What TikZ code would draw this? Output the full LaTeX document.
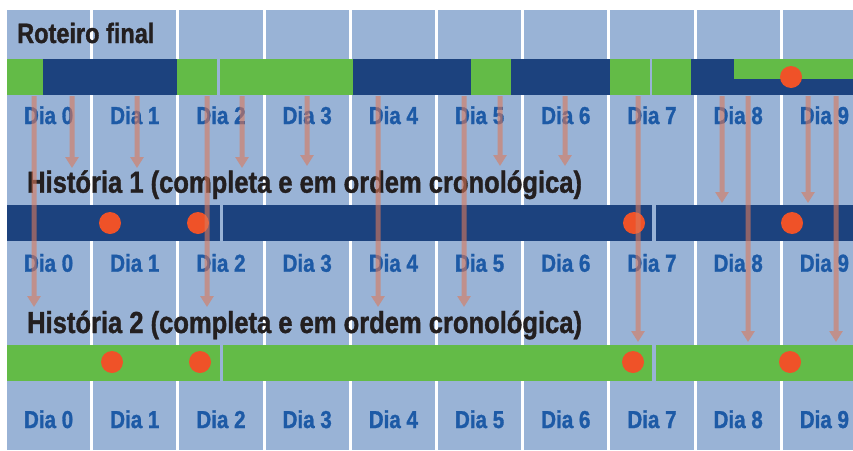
\documentclass[tikz,border=0pt]{standalone}
\usepackage{fontspec}
\setmainfont[FakeStretch=0.84, BoldFeatures={FakeBold=1.2}]{Liberation Sans}
\usetikzlibrary{arrows.meta}
\definecolor{colblue}{HTML}{99B3D6}
\definecolor{barnavy}{HTML}{1C427E}
\definecolor{bargreen}{HTML}{63BB47}
\definecolor{dotred}{HTML}{EF5228}
\definecolor{daytext}{HTML}{1D5AA6}
\definecolor{titletext}{HTML}{231F20}
\definecolor{arrowrose}{HTML}{DA795B}

\begin{document}
\begin{tikzpicture}[
    x=1pt, y=-1pt,
    column/.style={fill=colblue},
    daylabel/.style={anchor=base, text=daytext, inner sep=0pt, font=\bfseries\fontsize{24.5}{28}\selectfont},
    title/.style={anchor=base west, text=titletext, inner sep=0pt},
    event/.style={circle, fill=dotred, minimum size=22pt, inner sep=0pt},
    arrow/.style={line width=5pt, draw=arrowrose, -{Triangle[width=13pt,length=11pt]}}
]
\useasboundingbox (0,0) rectangle (853,450);
\clip (0,0) rectangle (853,450);

% day columns
\foreach \i in {0,...,9}
    \fill[column] ({7+86.2*\i},10) rectangle ++(83.2,440);

% final script bar
\fill[bargreen] (7,59) rectangle (43,95);
\fill[barnavy] (43,59) rectangle (177,95);
\fill[bargreen] (177,59) rectangle (217,95);
\fill[bargreen] (220,59) rectangle (353,95);
\fill[barnavy] (353,59) rectangle (471,95);
\fill[bargreen] (471,59) rectangle (511,95);
\fill[barnavy] (511,59) rectangle (610,95);
\fill[bargreen] (610,59) rectangle (650,95);
\fill[bargreen] (652,59) rectangle (691,95);
\fill[barnavy] (691,59) rectangle (853,95);
\fill[bargreen] (734,59) rectangle (853,79);

% story bars
\fill[barnavy] (7,205) rectangle (220,241);
\fill[barnavy] (223,205) rectangle (652,241);
\fill[barnavy] (656,205) rectangle (853,241);
\fill[bargreen] (7,345) rectangle (220,381);
\fill[bargreen] (223,345) rectangle (652,381);
\fill[bargreen] (656,345) rectangle (853,381);

\node[event] (r1) at (791,77) {};
\node[event] (a1) at (110,223) {};
\node[event] (a2) at (198,223) {};
\node[event] (a3) at (634,223) {};
\node[event] (a4) at (792,223) {};
\node[event] (b1) at (112,362) {};
\node[event] (b2) at (200,362) {};
\node[event] (b3) at (633,362) {};
\node[event] (b4) at (790,362) {};

\node[title, font=\bfseries\fontsize{28}{32}\selectfont] (roteiro) at (17,43) {Roteiro final};
\node[title, font=\bfseries\fontsize{30.4}{34}\selectfont] (hist1) at (27,192.7) {História 1 (completa e em ordem cronológica)};
\node[title, font=\bfseries\fontsize{30.4}{34}\selectfont] (hist2) at (27,333) {História 2 (completa e em ordem cronológica)};

\foreach \i in {0,...,9}{
    \pgfmathsetmacro\cx{48.6+86.2*\i}
    \node[daylabel] (dayA\i) at (\cx,124) {Dia \i};
    \node[daylabel] (dayB\i) at (\cx,271.7) {Dia \i};
    \node[daylabel] (dayC\i) at (\cx,428) {Dia \i};
}

% where each scene goes
\begin{scope}[transparency group, opacity=0.6]
\foreach \x/\y [count=\k] in {34/307, 72/168, 137/168, 207/307, 242/168, 307/166, 378/307, 464/307,
        500/166, 565/166, 638/342, 722/203, 748/342, 808/203, 836/342}{
    \coordinate (from\k) at (\x,96);
    \coordinate (to\k) at (\x,\y);
    \draw[arrow] (from\k) -- (to\k);
}
\end{scope}

\end{tikzpicture}
\end{document}
